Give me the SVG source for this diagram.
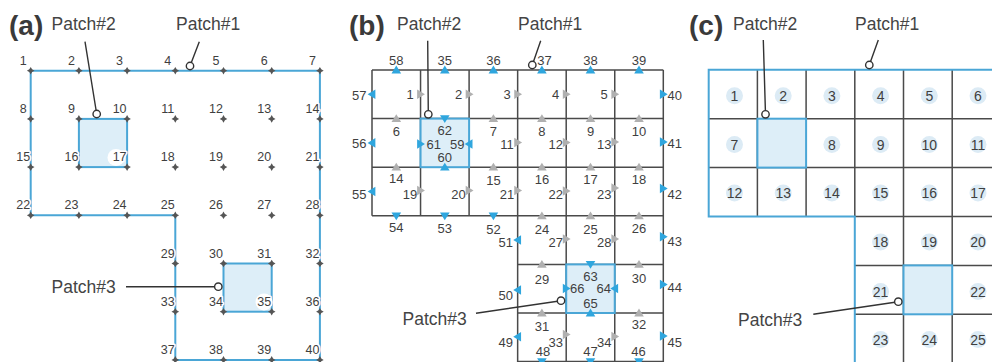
<svg xmlns="http://www.w3.org/2000/svg" xmlns:xlink="http://www.w3.org/1999/xlink" width="992" height="362" viewBox="0 0 992 362">
<style>
text{font-family:"Liberation Sans",Arial,sans-serif;fill:#3f3f3f}
.hd{font-size:28px;font-weight:bold;fill:#3a3a3a}
.pl{font-size:17.5px;fill:#444}
.an{font-size:12.5px;text-anchor:middle;paint-order:stroke;stroke:#fff;stroke-width:3px;stroke-linejoin:round}
.bn{font-size:13px}
.m{text-anchor:middle}
.e{text-anchor:end}
.cn{font-size:14px;text-anchor:middle}
.blue{fill:none;stroke:#4aa6d6;stroke-width:2}
.patch{fill:#ddeef8;stroke:#4aa6d6;stroke-width:2}
.grid{fill:none;stroke:#4a4a4a;stroke-width:1.5}
.tb{fill:#2fa6de}
.tg{fill:#b0b0b0}
.nd{fill:#555}
.ld{fill:none;stroke:#333;stroke-width:1.4}
.lc{fill:#fff;stroke:#333;stroke-width:1.4}
.cc{fill:#dcebf5}
</style>
<defs>
<path id="nd" d="M0,-3.8 L1.4,-1.4 L3.8,0 L1.4,1.4 L0,3.8 L-1.4,1.4 L-3.8,0 L-1.4,-1.4Z"/>
<path id="tu" d="M0,-4.4 L4.8,3.4 L-4.8,3.4Z"/>
<path id="td" d="M0,4.4 L4.8,-3.4 L-4.8,-3.4Z"/>
<path id="tr" d="M4.4,0 L-3.4,4.8 L-3.4,-4.8Z"/>
<path id="tl" d="M-4.4,0 L3.4,4.8 L3.4,-4.8Z"/>
</defs>
<rect width="992" height="362" fill="#fff"/>

<!-- ============ Panel (a) ============ -->
<g id="panel-a">
<text class="hd" x="9" y="35">(a)</text>
<rect class="patch" x="78.9" y="118.9" width="48.2" height="48.2"/>
<rect class="patch" x="223.5" y="263.5" width="48.2" height="48.2"/>
<path class="blue" d="M30.7,70.7 H319.9 V359.9 H175.3 V215.3 H30.7 Z"/>
<circle cx="116" cy="157.5" r="8.5" fill="#fff"/>
<circle cx="264" cy="302" r="8.5" fill="#fff"/>
</g>
<g class="nd">
<g id="a1"><use href="#nd" x="30.7" y="70.7"/><text class="an" x="23.2" y="64.7">1</text></g>
<g id="a2"><use href="#nd" x="78.9" y="70.7"/><text class="an" x="71.4" y="64.7">2</text></g>
<g id="a3"><use href="#nd" x="127.1" y="70.7"/><text class="an" x="119.6" y="64.7">3</text></g>
<g id="a4"><use href="#nd" x="175.3" y="70.7"/><text class="an" x="167.8" y="64.7">4</text></g>
<g id="a5"><use href="#nd" x="223.5" y="70.7"/><text class="an" x="216" y="64.7">5</text></g>
<g id="a6"><use href="#nd" x="271.7" y="70.7"/><text class="an" x="264.2" y="64.7">6</text></g>
<g id="a7"><use href="#nd" x="319.9" y="70.7"/><text class="an" x="312.4" y="64.7">7</text></g>
<g id="a8"><use href="#nd" x="30.7" y="118.9"/><text class="an" x="23.2" y="112.9">8</text></g>
<g id="a9"><use href="#nd" x="78.9" y="118.9"/><text class="an" x="71.4" y="112.9">9</text></g>
<g id="a10"><use href="#nd" x="127.1" y="118.9"/><text class="an" x="119.6" y="112.9">10</text></g>
<g id="a11"><use href="#nd" x="175.3" y="118.9"/><text class="an" x="167.8" y="112.9">11</text></g>
<g id="a12"><use href="#nd" x="223.5" y="118.9"/><text class="an" x="216" y="112.9">12</text></g>
<g id="a13"><use href="#nd" x="271.7" y="118.9"/><text class="an" x="264.2" y="112.9">13</text></g>
<g id="a14"><use href="#nd" x="319.9" y="118.9"/><text class="an" x="312.4" y="112.9">14</text></g>
<g id="a15"><use href="#nd" x="30.7" y="167.1"/><text class="an" x="23.2" y="161.1">15</text></g>
<g id="a16"><use href="#nd" x="78.9" y="167.1"/><text class="an" x="71.4" y="161.1">16</text></g>
<g id="a17"><use href="#nd" x="127.1" y="167.1"/><text class="an" x="119.6" y="161.1">17</text></g>
<g id="a18"><use href="#nd" x="175.3" y="167.1"/><text class="an" x="167.8" y="161.1">18</text></g>
<g id="a19"><use href="#nd" x="223.5" y="167.1"/><text class="an" x="216" y="161.1">19</text></g>
<g id="a20"><use href="#nd" x="271.7" y="167.1"/><text class="an" x="264.2" y="161.1">20</text></g>
<g id="a21"><use href="#nd" x="319.9" y="167.1"/><text class="an" x="312.4" y="161.1">21</text></g>
<g id="a22"><use href="#nd" x="30.7" y="215.3"/><text class="an" x="23.2" y="209.3">22</text></g>
<g id="a23"><use href="#nd" x="78.9" y="215.3"/><text class="an" x="71.4" y="209.3">23</text></g>
<g id="a24"><use href="#nd" x="127.1" y="215.3"/><text class="an" x="119.6" y="209.3">24</text></g>
<g id="a25"><use href="#nd" x="175.3" y="215.3"/><text class="an" x="167.8" y="209.3">25</text></g>
<g id="a26"><use href="#nd" x="223.5" y="215.3"/><text class="an" x="216" y="209.3">26</text></g>
<g id="a27"><use href="#nd" x="271.7" y="215.3"/><text class="an" x="264.2" y="209.3">27</text></g>
<g id="a28"><use href="#nd" x="319.9" y="215.3"/><text class="an" x="312.4" y="209.3">28</text></g>
<g id="a29"><use href="#nd" x="175.3" y="263.5"/><text class="an" x="167.8" y="257.5">29</text></g>
<g id="a30"><use href="#nd" x="223.5" y="263.5"/><text class="an" x="216" y="257.5">30</text></g>
<g id="a31"><use href="#nd" x="271.7" y="263.5"/><text class="an" x="264.2" y="257.5">31</text></g>
<g id="a32"><use href="#nd" x="319.9" y="263.5"/><text class="an" x="312.4" y="257.5">32</text></g>
<g id="a33"><use href="#nd" x="175.3" y="311.7"/><text class="an" x="167.8" y="305.7">33</text></g>
<g id="a34"><use href="#nd" x="223.5" y="311.7"/><text class="an" x="216" y="305.7">34</text></g>
<g id="a35"><use href="#nd" x="271.7" y="311.7"/><text class="an" x="264.2" y="305.7">35</text></g>
<g id="a36"><use href="#nd" x="319.9" y="311.7"/><text class="an" x="312.4" y="305.7">36</text></g>
<g id="a37"><use href="#nd" x="175.3" y="359.9"/><text class="an" x="167.8" y="353.9">37</text></g>
<g id="a38"><use href="#nd" x="223.5" y="359.9"/><text class="an" x="216" y="353.9">38</text></g>
<g id="a39"><use href="#nd" x="271.7" y="359.9"/><text class="an" x="264.2" y="353.9">39</text></g>
<g id="a40"><use href="#nd" x="319.9" y="359.9"/><text class="an" x="312.4" y="353.9">40</text></g>
</g>

<!-- ============ Panel (b) ============ -->
<g id="panel-b">
<text class="hd" x="349" y="35">(b)</text>
<path class="grid" d="M372,70 H663.3 M372,118.6 H663.3 M372,167.2 H663.3 M372,215.8 H663.3 M517.65,264.4 H663.3 M517.65,313 H663.3 M517.65,361.6 H663.3 M372,70 V215.8 M420.55,70 V215.8 M469.1,70 V215.8 M517.65,70 V363 M566.2,70 V363 M614.75,70 V363 M663.3,70 V363"/>
<rect class="patch" x="420.55" y="118.6" width="48.55" height="48.6"/>
<rect class="patch" x="566.2" y="264.4" width="48.55" height="48.6"/>
</g>
<g class="bn">
<g id="b58"><use class="tb" href="#tu" x="396.3" y="70"/><text class="bn m" x="396.3" y="65">58</text></g>
<g id="b35"><use class="tb" href="#tu" x="444.8" y="70"/><text class="bn m" x="444.8" y="65">35</text></g>
<g id="b36"><use class="tb" href="#tu" x="493.4" y="70"/><text class="bn m" x="493.4" y="65">36</text></g>
<g id="b37"><use class="tb" href="#tu" x="541.9" y="70"/><text class="bn m" x="544.5" y="65">37</text></g>
<g id="b38"><use class="tb" href="#tu" x="590.5" y="70"/><text class="bn m" x="590.5" y="65">38</text></g>
<g id="b39"><use class="tb" href="#tu" x="639" y="70"/><text class="bn m" x="639" y="65">39</text></g>
<g id="b57"><use class="tb" href="#tl" x="372" y="94.3"/><text class="bn e" x="366.5" y="99.5">57</text></g>
<g id="b56"><use class="tb" href="#tl" x="372" y="142.9"/><text class="bn e" x="366.5" y="148">56</text></g>
<g id="b55"><use class="tb" href="#tl" x="372" y="191.5"/><text class="bn e" x="366.5" y="199">55</text></g>
<g id="b40"><use class="tb" href="#tr" x="663.3" y="94.3"/><text class="bn" x="667.5" y="100">40</text></g>
<g id="b41"><use class="tb" href="#tr" x="663.3" y="142"/><text class="bn" x="667.5" y="147.5">41</text></g>
<g id="b42"><use class="tb" href="#tr" x="663.3" y="188.5"/><text class="bn" x="667.5" y="199">42</text></g>
<g id="b43"><use class="tb" href="#tr" x="663.3" y="236.7"/><text class="bn" x="667.5" y="246">43</text></g>
<g id="b44"><use class="tb" href="#tr" x="663.3" y="284.5"/><text class="bn" x="667.5" y="291.5">44</text></g>
<g id="b45"><use class="tb" href="#tr" x="663.3" y="336"/><text class="bn" x="667.5" y="347">45</text></g>
<g id="b54"><use class="tb" href="#td" x="396.3" y="215.8"/><text class="bn m" x="396.3" y="231.5">54</text></g>
<g id="b53"><use class="tb" href="#td" x="444.8" y="215.8"/><text class="bn m" x="444.8" y="232.5">53</text></g>
<g id="b52"><use class="tb" href="#td" x="493.4" y="215.8"/><text class="bn m" x="493.4" y="233.5">52</text></g>
<g id="b51"><use class="tb" href="#tl" x="517.65" y="240"/><text class="bn e" x="513" y="246.5">51</text></g>
<g id="b50"><use class="tb" href="#tl" x="517.65" y="290"/><text class="bn e" x="513" y="299.5">50</text></g>
<g id="b49"><use class="tb" href="#tl" x="517.65" y="336.7"/><text class="bn e" x="513" y="347">49</text></g>
<g id="b48"><use class="tb" href="#td" x="541.9" y="361.6"/><text class="bn m" x="543" y="356">48</text></g>
<g id="b47"><use class="tb" href="#td" x="590.5" y="361.6"/><text class="bn m" x="590.5" y="356">47</text></g>
<g id="b46"><use class="tb" href="#td" x="639" y="361.6"/><text class="bn m" x="638.5" y="356">46</text></g>
<g id="b1"><use class="tg" href="#tr" x="420.55" y="94.3"/><text class="bn m" x="410" y="99.3">1</text></g>
<g id="b2"><use class="tg" href="#tr" x="469.1" y="94.3"/><text class="bn m" x="458.6" y="99.3">2</text></g>
<g id="b3"><use class="tg" href="#tr" x="517.65" y="94.3"/><text class="bn m" x="507.1" y="99.3">3</text></g>
<g id="b4"><use class="tg" href="#tr" x="566.2" y="94.3"/><text class="bn m" x="555.7" y="99.3">4</text></g>
<g id="b5"><use class="tg" href="#tr" x="614.75" y="94.3"/><text class="bn m" x="604.2" y="99.3">5</text></g>
<g id="b11"><use class="tg" href="#tr" x="517.65" y="142.5"/><text class="bn m" x="507.1" y="149">11</text></g>
<g id="b12"><use class="tg" href="#tr" x="566.2" y="142.5"/><text class="bn m" x="555.7" y="149">12</text></g>
<g id="b13"><use class="tg" href="#tr" x="614.75" y="142"/><text class="bn m" x="604.2" y="149">13</text></g>
<g id="b19"><use class="tg" href="#tr" x="420.55" y="190.5"/><text class="bn m" x="410" y="199">19</text></g>
<g id="b20"><use class="tg" href="#tr" x="469.1" y="190.5"/><text class="bn m" x="458.6" y="199">20</text></g>
<g id="b21"><use class="tg" href="#tr" x="517.65" y="190.5"/><text class="bn m" x="507.1" y="199">21</text></g>
<g id="b22"><use class="tg" href="#tr" x="566.2" y="191"/><text class="bn m" x="555.7" y="198.5">22</text></g>
<g id="b23"><use class="tg" href="#tr" x="614.75" y="188"/><text class="bn m" x="604.2" y="199">23</text></g>
<g id="b27"><use class="tg" href="#tr" x="566.2" y="239"/><text class="bn m" x="555.7" y="247">27</text></g>
<g id="b28"><use class="tg" href="#tr" x="614.75" y="239"/><text class="bn m" x="604.2" y="247">28</text></g>
<g id="b33"><use class="tg" href="#tr" x="566.2" y="334.5"/><text class="bn m" x="555.7" y="347">33</text></g>
<g id="b34"><use class="tg" href="#tr" x="614.75" y="336.5"/><text class="bn m" x="604.2" y="347">34</text></g>
<g id="b6"><use class="tg" href="#tu" x="396.3" y="118.6"/><text class="bn m" x="396.3" y="135.6">6</text></g>
<g id="b7"><use class="tg" href="#tu" x="493.4" y="118.6"/><text class="bn m" x="493.4" y="135.6">7</text></g>
<g id="b8"><use class="tg" href="#tu" x="541.9" y="118.6"/><text class="bn m" x="541.9" y="135.6">8</text></g>
<g id="b9"><use class="tg" href="#tu" x="590.5" y="118.6"/><text class="bn m" x="590.5" y="135.6">9</text></g>
<g id="b10"><use class="tg" href="#tu" x="639" y="118.6"/><text class="bn m" x="639" y="135.6">10</text></g>
<g id="b14"><use class="tg" href="#tu" x="396.3" y="167.2"/><text class="bn m" x="396.3" y="182.8">14</text></g>
<g id="b15"><use class="tg" href="#tu" x="493.4" y="167.2"/><text class="bn m" x="493.4" y="185">15</text></g>
<g id="b16"><use class="tg" href="#tu" x="541.9" y="167.2"/><text class="bn m" x="541.9" y="184">16</text></g>
<g id="b17"><use class="tg" href="#tu" x="590.5" y="167.2"/><text class="bn m" x="590.5" y="184">17</text></g>
<g id="b18"><use class="tg" href="#tu" x="639" y="167.2"/><text class="bn m" x="639" y="184">18</text></g>
<g id="b24"><use class="tg" href="#tu" x="541.9" y="215.8"/><text class="bn m" x="541.9" y="233.5">24</text></g>
<g id="b25"><use class="tg" href="#tu" x="590.5" y="215.8"/><text class="bn m" x="590.5" y="233.5">25</text></g>
<g id="b26"><use class="tg" href="#tu" x="639" y="215.8"/><text class="bn m" x="639" y="232.5">26</text></g>
<g id="b29"><use class="tg" href="#tu" x="541.9" y="264.4"/><text class="bn m" x="541.9" y="284">29</text></g>
<g id="b30"><use class="tg" href="#tu" x="639" y="264.4"/><text class="bn m" x="639" y="282.5">30</text></g>
<g id="b31"><use class="tg" href="#tu" x="541.9" y="313"/><text class="bn m" x="541.9" y="331">31</text></g>
<g id="b32"><use class="tg" href="#tu" x="639" y="313"/><text class="bn m" x="639" y="328.5">32</text></g>
<g id="b62"><use class="tb" href="#td" x="444.8" y="118.6"/><text class="bn m" x="444.8" y="135.3">62</text></g>
<g id="b60"><use class="tb" href="#tu" x="444.8" y="167.2"/><text class="bn m" x="444.8" y="162">60</text></g>
<g id="b61"><use class="tb" href="#tr" x="420.55" y="144"/><text class="bn" x="426.5" y="149">61</text></g>
<g id="b59"><use class="tb" href="#tl" x="469.1" y="144"/><text class="bn e" x="464.5" y="149">59</text></g>
<g id="b63"><use class="tb" href="#td" x="590.5" y="264.4"/><text class="bn m" x="590.5" y="280.5">63</text></g>
<g id="b65"><use class="tb" href="#tu" x="590.5" y="313"/><text class="bn m" x="590.5" y="307.5">65</text></g>
<g id="b66"><use class="tb" href="#tr" x="566.2" y="288.5"/><text class="bn" x="570" y="293.3">66</text></g>
<g id="b64"><use class="tb" href="#tl" x="614.75" y="288.5"/><text class="bn e" x="611" y="293.3">64</text></g>
</g>

<!-- ============ Panel (c) ============ -->
<g id="panel-c">
<text class="hd" x="689" y="35">(c)</text>
<path class="grid" stroke-width="1.7" d="M708.7,118.7 H992 M708.7,167.6 H992 M854.8,216.5 H992 M854.8,265.4 H992 M854.8,314.3 H992 M757.4,69.8 V216.5 M806.1,69.8 V216.5 M854.8,69.8 V216.5 M903.5,69.8 V363 M952.2,69.8 V363"/>
<rect class="patch" x="757.4" y="118.7" width="48.7" height="48.9"/>
<rect class="patch" x="903.5" y="265.4" width="48.7" height="48.9"/>
<path class="blue" d="M993,69.8 H708.7 V216.5 H854.8 V363"/>
</g>
<g id="c1"><circle class="cc" cx="734.5" cy="95.7" r="8.5"/><text class="cn" x="734.5" y="100.7">1</text></g>
<g id="c2"><circle class="cc" cx="783.2" cy="95.7" r="8.5"/><text class="cn" x="783.2" y="100.7">2</text></g>
<g id="c3"><circle class="cc" cx="831.9" cy="95.7" r="8.5"/><text class="cn" x="831.9" y="100.7">3</text></g>
<g id="c4"><circle class="cc" cx="880.6" cy="95.7" r="8.5"/><text class="cn" x="880.6" y="100.7">4</text></g>
<g id="c5"><circle class="cc" cx="929.3" cy="95.7" r="8.5"/><text class="cn" x="929.3" y="100.7">5</text></g>
<g id="c6"><circle class="cc" cx="978" cy="95.7" r="8.5"/><text class="cn" x="978" y="100.7">6</text></g>
<g id="c7"><circle class="cc" cx="734.5" cy="144.6" r="8.5"/><text class="cn" x="734.5" y="149.6">7</text></g>
<g id="c8"><circle class="cc" cx="831.9" cy="144.6" r="8.5"/><text class="cn" x="831.9" y="149.6">8</text></g>
<g id="c9"><circle class="cc" cx="880.6" cy="144.6" r="8.5"/><text class="cn" x="880.6" y="149.6">9</text></g>
<g id="c10"><circle class="cc" cx="929.3" cy="144.6" r="8.5"/><text class="cn" x="929.3" y="149.6">10</text></g>
<g id="c11"><circle class="cc" cx="978" cy="144.6" r="8.5"/><text class="cn" x="978" y="149.6">11</text></g>
<g id="c12"><circle class="cc" cx="734.5" cy="193" r="8.5"/><text class="cn" x="734.5" y="198">12</text></g>
<g id="c13"><circle class="cc" cx="783.2" cy="193" r="8.5"/><text class="cn" x="783.2" y="198">13</text></g>
<g id="c14"><circle class="cc" cx="831.9" cy="193" r="8.5"/><text class="cn" x="831.9" y="198">14</text></g>
<g id="c15"><circle class="cc" cx="880.6" cy="193" r="8.5"/><text class="cn" x="880.6" y="198">15</text></g>
<g id="c16"><circle class="cc" cx="929.3" cy="193" r="8.5"/><text class="cn" x="929.3" y="198">16</text></g>
<g id="c17"><circle class="cc" cx="978" cy="193" r="8.5"/><text class="cn" x="978" y="198">17</text></g>
<g id="c18"><circle class="cc" cx="880.6" cy="242" r="8.5"/><text class="cn" x="880.6" y="247">18</text></g>
<g id="c19"><circle class="cc" cx="929.3" cy="242" r="8.5"/><text class="cn" x="929.3" y="247">19</text></g>
<g id="c20"><circle class="cc" cx="978" cy="242" r="8.5"/><text class="cn" x="978" y="247">20</text></g>
<g id="c21"><circle class="cc" cx="880.6" cy="291.5" r="8.5"/><text class="cn" x="880.6" y="296.5">21</text></g>
<g id="c22"><circle class="cc" cx="978" cy="291.5" r="8.5"/><text class="cn" x="978" y="296.5">22</text></g>
<g id="c23"><circle class="cc" cx="880.6" cy="339.5" r="8.5"/><text class="cn" x="880.6" y="344.5">23</text></g>
<g id="c24"><circle class="cc" cx="929.3" cy="339.5" r="8.5"/><text class="cn" x="929.3" y="344.5">24</text></g>
<g id="c25"><circle class="cc" cx="978" cy="339.5" r="8.5"/><text class="cn" x="978" y="344.5">25</text></g>

<!-- ============ Patch labels and leader connectors ============ -->
<g id="labels">
<text class="pl" x="51.5" y="29.5">Patch#2</text>
<text class="pl" x="176" y="29.5">Patch#1</text>
<text class="pl" x="51.5" y="293">Patch#3</text>
<text class="pl" x="397" y="29.5">Patch#2</text>
<text class="pl" x="518" y="29.5">Patch#1</text>
<text class="pl" x="402.5" y="324.5">Patch#3</text>
<text class="pl" x="733" y="29.5">Patch#2</text>
<text class="pl" x="855" y="29.5">Patch#1</text>
<text class="pl" x="738" y="326">Patch#3</text>
</g>
<g id="connectors">
<path class="ld" d="M85,41.7 L96.7,114 M199.3,41.7 L190,66 M126,286.7 L218.3,286.7 M427.7,40.7 L428.3,114.3 M540.7,40.7 L532.3,65 M476,313.3 L561,300.7 M763.3,40 L765.5,114.3 M878.3,40 L869.3,65 M813.3,314.3 L898.3,301.7"/>
<circle class="lc" cx="96.7" cy="114" r="3.7"/>
<circle class="lc" cx="190" cy="66" r="3.7"/>
<circle class="lc" cx="218.3" cy="286.7" r="3.7"/>
<circle class="lc" cx="428.3" cy="114.3" r="3.7"/>
<circle class="lc" cx="532.3" cy="65" r="3.7"/>
<circle class="lc" cx="561" cy="300.7" r="3.7"/>
<circle class="lc" cx="765.5" cy="114.3" r="3.7"/>
<circle class="lc" cx="869.3" cy="65" r="3.7"/>
<circle class="lc" cx="898.3" cy="301.7" r="3.7"/>
</g>
</svg>
